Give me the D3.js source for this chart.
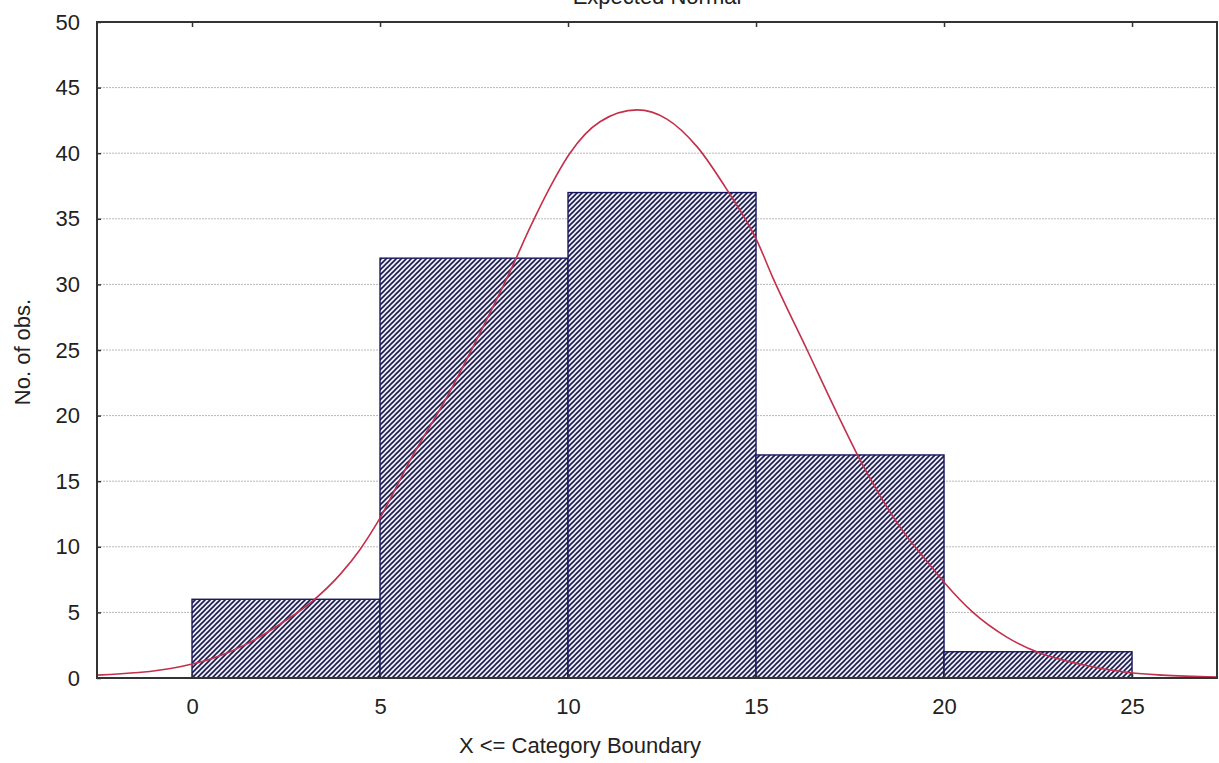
<!DOCTYPE html>
<html>
<head>
<meta charset="utf-8">
<script src="https://cdn.jsdelivr.net/npm/d3@7"></script>
<style>
  body { margin: 0; background: #fff; }
  svg { display: block; font-family: "Liberation Sans", Arial, sans-serif; }
</style>
</head>
<body>
<div id="chart"></div>
<script>
// histogram bins (upper boundaries) and counts
var binStarts = [0, 5, 10, 15, 20];
var binWidth = 5;
var counts = [6, 32, 37, 17, 2];

// expected normal curve
var curveX = [-2.53, -0.32, 0.56, 1.46, 2.34, 3.22, 3.94, 4.47, 4.92, 5.88, 6.78, 7.66, 8.51, 9.0, 9.52, 10.05, 10.85, 11.84, 12.63, 13.43, 14.23, 15.03, 15.45, 16.36, 17.15, 17.77, 18.83, 19.63, 20.03, 20.77, 21.68, 22.55, 23.62, 24.95, 25.8, 27.26];
var curveY = [0.22, 0.86, 1.5, 2.6, 4.1, 5.9, 7.9, 9.8, 11.8, 17.0, 21.4, 26.3, 31.3, 34.4, 37.4, 40.0, 42.4, 43.3, 42.6, 40.5, 37.2, 33.3, 30.5, 25.0, 20.2, 16.6, 11.5, 8.6, 7.2, 5.0, 3.1, 1.9, 1.05, 0.4, 0.22, 0.08];

var yTicks = [0, 5, 10, 15, 20, 25, 30, 35, 40, 45, 50];
var xTicks = [0, 5, 10, 15, 20, 25];

var W = 1219, H = 763;
var plotL = 97, plotR = 1217, plotT = 22, plotB = 678;
var fontSize = "22px";

var svg = d3.select("#chart").append("svg")
    .attr("width", W)
    .attr("height", H);

var x = d3.scaleLinear().domain([-2.527, 27.26]).range([plotL, plotR]);
var y = d3.scaleLinear().domain([0, 50]).range([plotB, plotT]);

// hatch pattern
var pat = svg.append("defs").append("pattern")
    .attr("id", "hatch")
    .attr("patternUnits", "userSpaceOnUse")
    .attr("width", 5)
    .attr("height", 5);
pat.append("rect").attr("width", 5).attr("height", 5).attr("fill", "#eeeefa");
pat.append("path")
    .attr("d", "M-1,1 l2,-2 M0,5 l5,-5 M4,6 l2,-2")
    .attr("stroke", "#1c1c4a")
    .attr("stroke-width", 1.6);

// grid lines
svg.append("g").selectAll("line")
    .data(yTicks.filter(function(d) { return d > 0 && d < 50; }))
    .enter().append("line")
    .attr("x1", plotL).attr("x2", plotR)
    .attr("y1", function(d) { return y(d); })
    .attr("y2", function(d) { return y(d); })
    .attr("stroke", "#b8b8b8")
    .attr("stroke-width", 1)
    .attr("stroke-dasharray", "2,1");

// bars
svg.append("g").selectAll("rect")
    .data(counts)
    .enter().append("rect")
    .attr("x", function(d, i) { return x(binStarts[i]); })
    .attr("y", function(d) { return y(d); })
    .attr("width", function(d, i) { return x(binStarts[i] + binWidth) - x(binStarts[i]); })
    .attr("height", function(d) { return y(0) - y(d); })
    .attr("fill", "url(#hatch)")
    .attr("stroke", "#16165e")
    .attr("stroke-width", 1.4);

// normal curve
var pts = curveX.map(function(v, i) { return [v, curveY[i]]; });
svg.append("path")
    .datum(pts)
    .attr("fill", "none")
    .attr("stroke", "#c2304c")
    .attr("stroke-width", 1.6)
    .attr("d", d3.line()
        .x(function(d) { return x(d[0]); })
        .y(function(d) { return y(d[1]); })
        .curve(d3.curveMonotoneX));

// frame
svg.append("rect")
    .attr("x", plotL).attr("y", plotT)
    .attr("width", plotR - plotL).attr("height", plotB - plotT)
    .attr("fill", "none")
    .attr("stroke", "#333")
    .attr("stroke-width", 2);

// axes with inward ticks
var yAxis = svg.append("g")
    .attr("transform", "translate(" + plotL + ",0)")
    .call(d3.axisLeft(y).tickValues(yTicks).tickSize(-4).tickPadding(17));
var xAxis = svg.append("g")
    .attr("transform", "translate(0," + plotB + ")")
    .call(d3.axisBottom(x).tickValues(xTicks).tickSize(-4).tickPadding(20));
var xTop = svg.append("g")
    .attr("transform", "translate(0," + plotT + ")")
    .call(d3.axisTop(x).tickValues(xTicks).tickSize(-5).tickFormat(""));

[yAxis, xAxis, xTop].forEach(function(a) {
    a.select(".domain").remove();
    a.selectAll(".tick line").attr("stroke", "#333").attr("stroke-width", 1.5);
    a.selectAll("text")
        .attr("fill", "#222")
        .style("font-size", fontSize)
        .style("font-family", "'Liberation Sans', Arial, sans-serif");
});

// titles
svg.append("text")
    .attr("x", (plotL + plotR) / 2)
    .attr("y", 4)
    .attr("text-anchor", "middle")
    .attr("fill", "#222")
    .style("font-size", fontSize)
    .text("Expected Normal");

svg.append("text")
    .attr("x", 580)
    .attr("y", 753)
    .attr("text-anchor", "middle")
    .attr("fill", "#222")
    .style("font-size", fontSize)
    .text("X <= Category Boundary");

svg.append("text")
    .attr("transform", "translate(30," + 352 + ") rotate(-90)")
    .attr("text-anchor", "middle")
    .attr("fill", "#222")
    .style("font-size", fontSize)
    .text("No. of obs.");
</script>
</body>
</html>
